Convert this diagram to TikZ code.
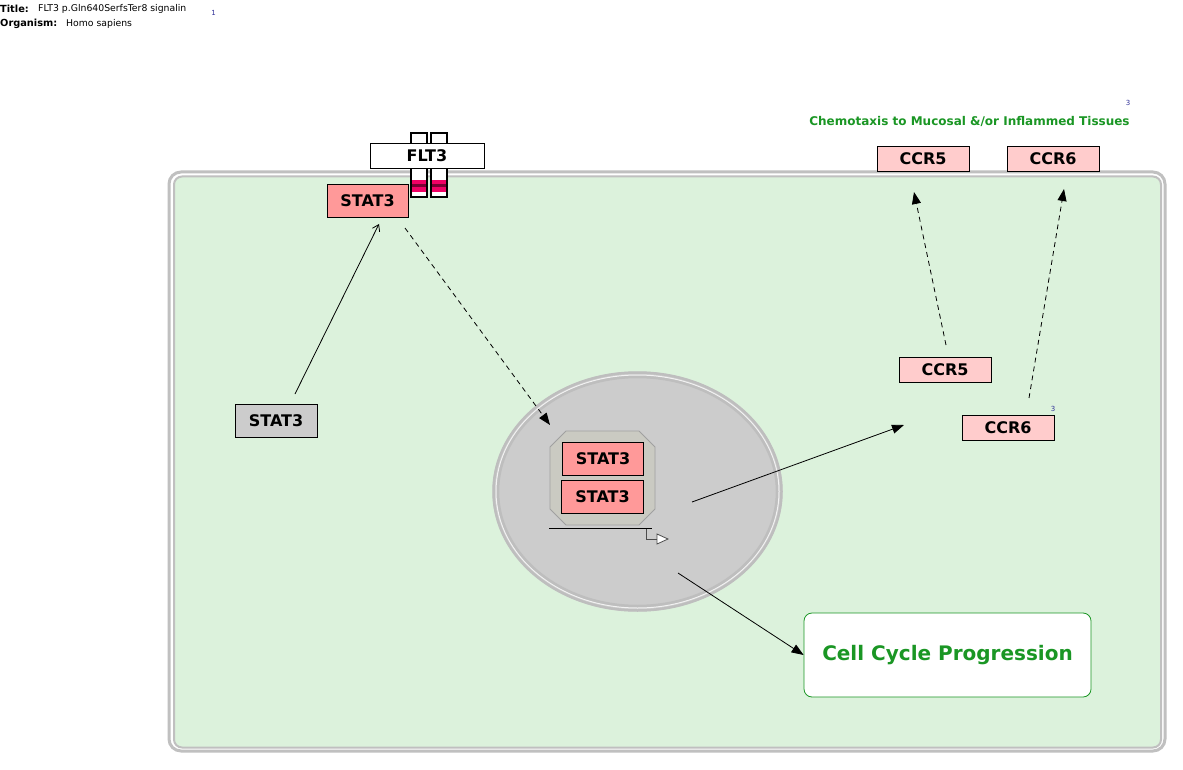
\documentclass[tikz,border=0pt]{standalone}
\usepackage{fontspec}
\setmainfont{DejaVu Sans}
\usetikzlibrary{arrows.meta,shapes.geometric}
\definecolor{cellfill}{RGB}{220,242,220}
\definecolor{cellline}{RGB}{192,192,192}
\definecolor{nucfill}{RGB}{204,204,204}
\definecolor{nucline}{RGB}{190,190,190}
\definecolor{cpxfill}{RGB}{202,202,194}
\definecolor{cpxline}{RGB}{160,160,160}
\definecolor{statpink}{RGB}{255,153,153}
\definecolor{ccrpink}{RGB}{255,204,204}
\definecolor{labgreen}{RGB}{26,150,36}
\definecolor{refblue}{RGB}{51,51,153}
\definecolor{rmag}{RGB}{240,0,100}
\definecolor{rdark}{RGB}{120,0,50}
\tikzset{
  gp/.style={draw=black, line width=0.8pt, inner sep=0pt, font=\fontsize{16}{19}\selectfont\bfseries},
  solidarr/.style={line width=0.8pt, -{Triangle[length=12pt,width=9pt]}},
  dasharr/.style={line width=0.8pt, dash pattern=on 5pt off 4pt, -{Triangle[length=12pt,width=9pt]}},
  openarr/.style={line width=0.8pt, -{Straight Barb[length=6pt,width=8pt]}},
  hdr/.style={anchor=west, inner sep=0pt, font=\fontsize{9.3}{11}\selectfont},
  hdrb/.style={anchor=west, inner sep=0pt, font=\fontsize{9.8}{11}\selectfont\bfseries},
  refnum/.style={inner sep=0pt, text=refblue, font=\fontsize{7}{8}\selectfont},
  recbar/.style={draw=black, fill=white, line width=1.5pt}
}
\begin{document}
\begin{tikzpicture}[x=1pt,y=-1pt]
\useasboundingbox (0,0) rectangle (1183,770);
\fill[white] (0,0) rectangle (1183,770);

% header
\node[hdrb] (tlab) at (0,9) {Title:};
\node[hdr] (ttext) at (38,9) {FLT3 p.Gln640SerfsTer8 signalin};
\node[refnum] (tref) at (213.5,13) {1};
\node[hdrb] (olab) at (0,24) {Organism:};
\node[hdr] (otext) at (66,24) {Homo sapiens};

% cell
\draw[cellline, line width=3pt, rounded corners=12pt] (169,172) rectangle (1165,751);
\draw[cellline, fill=cellfill, line width=2pt, rounded corners=8pt] (174,176.5) rectangle (1161,747.5);

% nucleus
\fill[nucfill] (637.5,491.5) ellipse [x radius=145, y radius=120];
\draw[nucline, line width=2.5pt] (637.5,491.5) ellipse [x radius=144, y radius=119];
\draw[white!80!nucline, line width=1pt] (637.5,491.5) ellipse [x radius=141.5, y radius=116.5];
\draw[nucline, line width=2.5pt] (637.5,491.5) ellipse [x radius=139.5, y radius=114.5];

% complex
\draw[cpxline, fill=cpxfill, line width=0.8pt] (566,431) -- (639,431) -- (655,447) -- (655,509) -- (639,525) -- (566,525) -- (550,509) -- (550,447) -- cycle;
\node[gp, fill=statpink, minimum width=81, minimum height=33] (cs1) at (603,459) {STAT3};
\node[gp, fill=statpink, minimum width=82, minimum height=33] (cs2) at (602.5,496.5) {STAT3};

% transcription mark
\coordinate (tr1) at (549,528.5);
\coordinate (tr2) at (652,528.5);
\draw[black, line width=0.8pt] (tr1) -- (tr2);
\coordinate (tr3) at (646,528.5);
\coordinate (tr4) at (657,539);
\draw[black!70, line width=1pt] (tr3) |- (tr4);
\draw[black!70, fill=white, line width=0.8pt] (657,534) -- (668,539) -- (657,544) -- cycle;

% receptor
\draw[recbar] (411,133) rectangle (427,197);
\draw[recbar] (431,133) rectangle (447,197);
\fill[rmag] (412,180) rectangle (426,192);
\fill[rmag] (432,180) rectangle (446,192);
\fill[rdark] (412,184.5) rectangle (426,187);
\fill[rdark] (432,184.5) rectangle (446,187);
\node[gp, fill=white, minimum width=114, minimum height=25] (flt3) at (427,155.5) {FLT3};

% STAT3 nodes
\node[gp, fill=statpink, minimum width=81, minimum height=33] (stat3top) at (367.5,200.5) {STAT3};
\node[gp, fill=black!20, minimum width=82, minimum height=33] (stat3left) at (276,420.5) {STAT3};

% CCR nodes
\node[gp, fill=ccrpink, minimum width=92, minimum height=25] (ccr5out) at (923,158.5) {CCR5};
\node[gp, fill=ccrpink, minimum width=92, minimum height=25] (ccr6out) at (1053,158.5) {CCR6};
\node[gp, fill=ccrpink, minimum width=92, minimum height=25] (ccr5in) at (945,369.5) {CCR5};
\node[gp, fill=ccrpink, minimum width=92, minimum height=25] (ccr6in) at (1008,427.5) {CCR6};
\node[refnum] (ccr6ref) at (1053,408.5) {3};

% labels
\node[inner sep=0pt, text=labgreen, font=\fontsize{12}{14}\selectfont\bfseries] (chemo) at (969.5,121) {Chemotaxis to Mucosal \&/or Inflammed Tissues};
\node[refnum] (chemoref) at (1128,102.5) {3};
\node[draw=labgreen, fill=white, line width=0.8pt, rounded corners=8pt, minimum width=287, minimum height=84, inner sep=0pt, text=labgreen, font=\fontsize{20}{24}\selectfont\bfseries] (cellcycle) at (947.5,655) {Cell Cycle Progression};

% connectors
\coordinate (a1s) at (295,394);
\coordinate (a1e) at (379,224);
\draw[openarr] (a1s) -- (a1e);
\coordinate (a2s) at (405,228);
\coordinate (a2e) at (550,425);
\draw[dasharr] (a2s) -- (a2e);
\coordinate (a3s) at (692,502);
\coordinate (a3e) at (904,425);
\draw[solidarr] (a3s) -- (a3e);
\coordinate (a4s) at (678,573);
\draw[solidarr] (a4s) -- (cellcycle.west |- 0,655);
\coordinate (a5s) at (946,345);
\coordinate (a5e) at (914,192);
\draw[dasharr] (a5s) -- (a5e);
\coordinate (a6s) at (1029,398);
\coordinate (a6e) at (1064,189);
\draw[dasharr] (a6s) -- (a6e);
\end{tikzpicture}
\end{document}
